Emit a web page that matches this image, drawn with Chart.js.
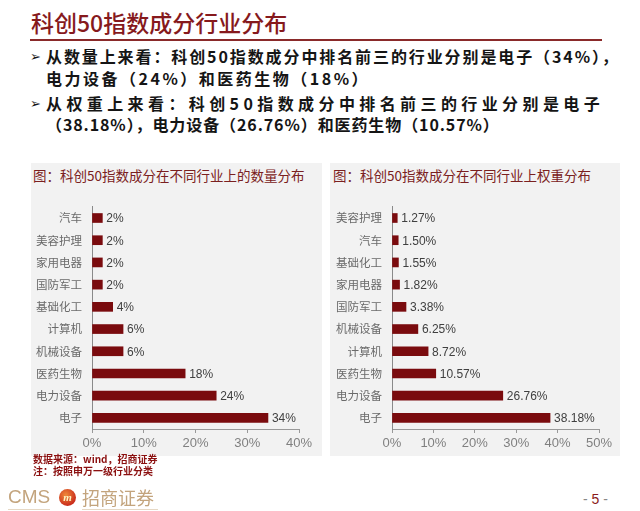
<!DOCTYPE html>
<html>
<head>
<meta charset="utf-8">
<script src="https://cdn.jsdelivr.net/npm/chart.js@4.4.1/dist/chart.umd.min.js"></script>
<style>
  body { margin: 0; background: #fff; }
  #page { position: relative; width: 640px; height: 511px; overflow: hidden; font-family: "Noto Sans CJK SC", "DejaVu Sans", sans-serif; }
  .abs { position: absolute; white-space: nowrap; }
  .title { left: 31px; top: 7px; font-size: 23px; line-height: 30px; color: #86191c; font-weight: 500; }
  .rule { left: 30px; top: 39px; width: 572px; height: 2px; background: #8a2a2a; }
  .bullet { font-size: 16px; line-height: 22px; font-weight: 700; color: #151515; }
  .arrow { font-family: "DejaVu Sans", sans-serif; font-size: 13px; font-weight: 400; }
  .panel { top: 163px; height: 293px; background: #f2f2f2; }
  .ptitle { font-size: 13.5px; line-height: 20px; color: #7a2020; }
  .box { position: absolute; }
  .note { font-size: 10px; line-height: 12px; font-weight: 700; color: #8b1010; }
</style>
</head>
<body>
<div id="page">
  <div class="abs title">科创50指数成分行业分布</div>
  <div class="abs rule"></div>

  <div class="abs bullet arrow" style="left:30px;top:46px;">➢</div>
  <div class="abs bullet" style="left:46px;top:45px;letter-spacing:1.9px;">从数量上来看：科创50指数成分中排名前三的行业分别是电子（34%），</div>
  <div class="abs bullet" style="left:46px;top:67px;letter-spacing:2.5px;">电力设备（24%）和医药生物（18%）</div>
  <div class="abs bullet arrow" style="left:30px;top:93px;">➢</div>
  <div class="abs bullet" style="left:46px;top:92px;letter-spacing:4.4px;">从权重上来看：科创50指数成分中排名前三的行业分别是电子</div>
  <div class="abs bullet" style="left:46px;top:113px;letter-spacing:0.9px;">（38.18%），电力设备（26.76%）和医药生物（10.57%）</div>

  <div class="abs panel" style="left:31px;width:291px;"></div>
  <div class="abs panel" style="left:330px;width:290px;"></div>
  <div class="abs ptitle" style="left:33px;top:165px;">图：科创50指数成分在不同行业上的数量分布</div>
  <div class="abs ptitle" style="left:333px;top:165px;">图：科创50指数成分在不同行业上权重分布</div>

  <div class="box" style="left:32px;top:190px;width:288px;height:264px;"><canvas id="countChart"></canvas></div>
  <div class="box" style="left:332px;top:190px;width:288px;height:264px;"><canvas id="weightChart"></canvas></div>

  <div class="abs note" style="left:33px;top:453px;">数据来源：wind，招商证券</div>
  <div class="abs note" style="left:33px;top:465px;">注：按照申万一级行业分类</div>

  <div class="abs" style="left:8px;top:486px;font-family:'Liberation Sans',sans-serif;font-size:19px;line-height:22px;color:#c3a47d;">CMS</div>
  <div class="abs" style="left:59px;top:489px;width:17px;height:17px;border-radius:50%;background:radial-gradient(circle at 40% 35%, #f08a3a, #c8281a 75%);color:#fff3c0;font:italic bold 11px/17px 'Liberation Serif',serif;text-align:center;">m</div>
  <div class="abs" style="left:82px;top:485px;font-size:18px;line-height:24px;color:#c3a47d;">招商证券</div>
  <div class="abs" style="left:8px;top:509px;width:42px;height:1px;background:#e6d8c4;"></div>
  <div class="abs" style="left:82px;top:509px;width:76px;height:1px;background:#e6d8c4;"></div>
  <div class="abs" style="left:583px;top:490px;font-family:'Liberation Sans',sans-serif;font-size:14px;line-height:18px;color:#888;">- <span style="color:#8b1a1a;">5</span> -</div>
</div>

<script>
// 数量分布
const countCats = ['汽车', '美容护理', '家用电器', '国防军工', '基础化工', '计算机', '机械设备', '医药生物', '电力设备', '电子'];
const countVals = [2, 2, 2, 2, 4, 6, 6, 18, 24, 34];
const countMax = 40;

// 权重分布
const weightCats = ['美容护理', '汽车', '基础化工', '家用电器', '国防军工', '机械设备', '计算机', '医药生物', '电力设备', '电子'];
const weightVals = [1.27, 1.50, 1.55, 1.82, 3.38, 6.25, 8.72, 10.57, 26.76, 38.18];
const weightMax = 50;

const tickStep = 10;
const barColor = '#7a0b0e';
const latin = '"Liberation Sans", Arial, sans-serif';
const cjk = '"Noto Sans CJK SC", sans-serif';

// etiquetas de valor a la derecha de cada barra
const barLabels = {
    id: 'barLabels',
    afterDatasetsDraw(chart, args, opts) {
        const ctx = chart.ctx;
        const meta = chart.getDatasetMeta(0);
        const data = chart.data.datasets[0].data;
        ctx.save();
        ctx.font = '12px ' + latin;
        ctx.fillStyle = '#404040';
        ctx.textBaseline = 'middle';
        meta.data.forEach((bar, i) => {
            ctx.fillText(data[i].toFixed(opts.decimals) + '%', bar.x + 4, bar.y + 1);
        });
        ctx.restore();
    }
};

function makeChart(id, cats, vals, max, decimals) {
    const config = {
        type: 'bar',
        data: {
            labels: cats,
            datasets: [{
                data: vals,
                backgroundColor: barColor,
                borderWidth: 0,
                barThickness: 9
            }]
        },
        options: {
            indexAxis: 'y',
            responsive: true,
            maintainAspectRatio: false,
            animation: false,
            devicePixelRatio: 1,
            layout: { padding: { top: 6.4, right: 21, left: 0, bottom: 0 } },
            plugins: {
                legend: { display: false },
                tooltip: { enabled: false },
                barLabels: { decimals: decimals }
            },
            scales: {
                x: {
                    min: 0,
                    max: max,
                    ticks: {
                        stepSize: tickStep,
                        callback: v => v + '%',
                        color: '#808080',
                        font: { size: 13, family: latin },
                        padding: 3,
                        maxRotation: 0
                    },
                    grid: { drawOnChartArea: false, drawTicks: true, tickLength: 4, color: '#999' },
                    border: { color: '#999' },
                    afterFit(scale) { scale.height = 25; }
                },
                y: {
                    ticks: {
                        color: '#6a6a6a',
                        font: { size: 11.5, family: cjk },
                        padding: 10
                    },
                    grid: { display: true, drawOnChartArea: false, drawTicks: false },
                    border: { color: '#8a8a8a' },
                    afterFit(scale) { scale.width = 60; }
                }
            }
        },
        plugins: [barLabels]
    };
    return new Chart(document.getElementById(id), config);
}

makeChart('countChart', countCats, countVals, countMax, 0);
makeChart('weightChart', weightCats, weightVals, weightMax, 2);
</script>
</body>
</html>
